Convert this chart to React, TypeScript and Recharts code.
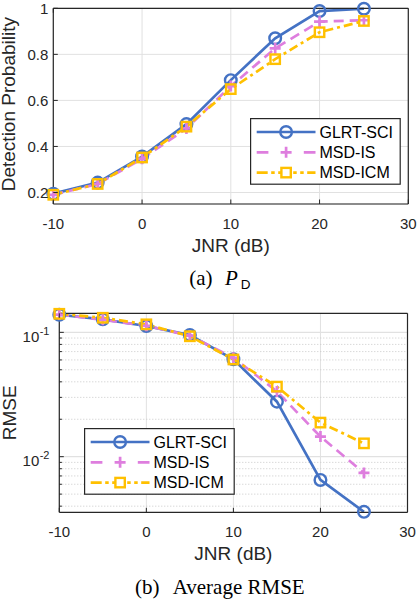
import React from 'react';
import { LineChart, Line, XAxis, YAxis, CartesianGrid, ReferenceLine, Legend, Label } from 'recharts';

const jnrDb = [-10, -5, 0, 5, 10, 15, 20, 25];

const pdGlrtSci = [0.195, 0.243, 0.356, 0.497, 0.688, 0.87, 0.988, 0.998];
const pdMsdIs = [0.19, 0.237, 0.346, 0.478, 0.662, 0.826, 0.942, 0.948];
const pdMsdIcm = [0.19, 0.237, 0.352, 0.486, 0.649, 0.779, 0.896, 0.945];

const rmseGlrtSci = [0.1385, 0.1272, 0.1124, 0.0951, 0.0607, 0.0277, 0.0065, 0.0036];
const rmseMsdIs = [0.139, 0.126, 0.113, 0.094, 0.0625, 0.0335, 0.0145, 0.0074];
const rmseMsdIcm = [0.141, 0.131, 0.116, 0.093, 0.0605, 0.0366, 0.0188, 0.0128];

const seriesNames = ['GLRT-SCI', 'MSD-IS', 'MSD-ICM'];
const xTicks = [-10, 0, 10, 20, 30];
const pdTicks = [0.2, 0.4, 0.6, 0.8, 1];
const pdTickLabels = ['0.2', '0.4', '0.6', '0.8', '1'];
const rmseMajorTicks = [0.01, 0.1];
const rmseTickExponents = ['-2', '-1'];
const rmseMinorTicks = [0.004, 0.005, 0.006, 0.007, 0.008, 0.009, 0.02, 0.03, 0.04, 0.05, 0.06, 0.07, 0.08, 0.09];
const xLabel = 'JNR (dB)';
const pdYLabel = 'Detection Probability';
const rmseYLabel = 'RMSE';

const pdData = jnrDb.map((x, i) => ({ jnr: x, glrt: pdGlrtSci[i], is: pdMsdIs[i], icm: pdMsdIcm[i] }));
const rmseData = jnrDb.map((x, i) => ({ jnr: x, glrt: rmseGlrtSci[i], is: rmseMsdIs[i], icm: rmseMsdIcm[i] }));
const rmseAllTicks = [...rmseMinorTicks, ...rmseMajorTicks].sort((a, b) => a - b);

const FONT = '"Liberation Sans", Arial, Helvetica, sans-serif';
const SERIF = '"Liberation Serif", "Times New Roman", serif';
const AX = '#262626';
const GRID = '#e1e1e1';

const SERIES = [
  { key: 'glrt', color: '#4472C4', dash: undefined, legendDash: undefined, marker: 'circle' },
  { key: 'is', color: '#DE7EDE', dash: '10 6', legendDash: '11.7 35.4 11.7', marker: 'plus' },
  { key: 'icm', color: '#FFC000', dash: '9 4 3 4', legendDash: '11 3.5 3.5 3.5 3 12 3.5 3.5 3.5 3.5 11', marker: 'square' },
];

const Marker = ({ kind, cx, cy, color }: any) => {
  if (cx == null || cy == null) return <g />;
  if (kind === 'circle')
    return <circle cx={cx} cy={cy} r={5.8} fill="none" stroke={color} strokeWidth={2.4} />;
  if (kind === 'plus')
    return (
      <path
        d={`M${cx - 5.5},${cy}H${cx + 5.5}M${cx},${cy - 5.5}V${cy + 5.5}`}
        stroke={color}
        strokeWidth={2.7}
        fill="none"
      />
    );
  return <rect x={cx - 4.7} y={cy - 4.7} width={9.4} height={9.4} fill="none" stroke={color} strokeWidth={2.4} />;
};

const dotFor = (kind: string, color: string) => (p: any) =>
  <Marker key={`d-${p.index}`} kind={kind} cx={p.cx} cy={p.cy} color={color} />;

const BottomTick = (props: any) => {
  const { x, y, payload } = props;
  return (
    <g>
      <line x1={x} x2={x} y1={y} y2={y - 4.5} stroke={AX} strokeWidth={1} />
      <text x={x} y={y + 25} textAnchor="middle" fontSize={15} fontFamily={FONT} fill={AX}>
        {payload.value}
      </text>
    </g>
  );
};

const TopTick = (props: any) => {
  const { x, y } = props;
  return <line x1={x} x2={x} y1={y} y2={y + 4.5} stroke={AX} strokeWidth={1} />;
};

const LeftPdTick = (props: any) => {
  const { x, y, payload } = props;
  const idx = pdTicks.indexOf(payload.value);
  return (
    <g>
      <line x1={x} x2={x + 4.5} y1={y} y2={y} stroke={AX} strokeWidth={1} />
      <text x={x - 5} y={y + 5.3} textAnchor="end" fontSize={15} fontFamily={FONT} fill={AX}>
        {idx >= 0 ? pdTickLabels[idx] : payload.value}
      </text>
    </g>
  );
};

const RightTick = (props: any) => {
  const { x, y, payload } = props;
  const major = rmseMinorTicks.indexOf(payload.value) < 0;
  const len = major ? 4.5 : 2.6;
  return <line x1={x} x2={x - len} y1={y} y2={y} stroke={AX} strokeWidth={1} />;
};

const LeftLogTick = (props: any) => {
  const { x, y, payload } = props;
  const mi = rmseMajorTicks.indexOf(payload.value);
  if (mi < 0) return <line x1={x} x2={x + 2.6} y1={y} y2={y} stroke={AX} strokeWidth={1} />;
  return (
    <g>
      <line x1={x} x2={x + 4.5} y1={y} y2={y} stroke={AX} strokeWidth={1} />
      <text x={x - 20} y={y + 9.7} textAnchor="end" fontSize={15} fontFamily={FONT} fill={AX}>
        10
      </text>
      <text x={x - 19.6} y={y + 2.7} textAnchor="start" fontSize={11} fontFamily={FONT} fill={AX}>
        {rmseTickExponents[mi]}
      </text>
    </g>
  );
};

const xLabelContent = (props: any) => {
  const vb = props.viewBox || {};
  return (
    <text x={vb.x + vb.width / 2} y={vb.y + 48} textAnchor="middle" fontSize={19} fontFamily={FONT} fill={AX}>
      {xLabel}
    </text>
  );
};

const yLabelContent = (text: string, bx: number, dyCenter: number) => (props: any) => {
  const vb = props.viewBox || {};
  const cx = vb.x + bx;
  const cy = vb.y + vb.height / 2 + dyCenter;
  return (
    <text
      x={cx}
      y={cy}
      transform={`rotate(-90 ${cx} ${cy})`}
      textAnchor="middle"
      fontSize={19}
      fontFamily={FONT}
      fill={AX}
    >
      {text}
    </text>
  );
};

const LegendBox = () => (
  <svg width={151} height={67} style={{ display: 'block' }}>
    <rect x={0.6} y={0.6} width={149.6} height={65.6} fill="#fff" stroke={AX} strokeWidth={1.2} />
    {SERIES.map((s, i) => {
      const cy = 14 + i * 20.3;
      return (
        <g key={s.key}>
          <line x1={6.7} x2={65.5} y1={cy} y2={cy} stroke={s.color} strokeWidth={2.7} strokeDasharray={s.legendDash} />
          <Marker kind={s.marker} cx={36.1} cy={cy} color={s.color} />
          <text x={69.5} y={cy + 5.7} fontSize={16} fontFamily={FONT} fill="#000">
            {seriesNames[i]}
          </text>
        </g>
      );
    })}
  </svg>
);

const renderLines = () =>
  SERIES.map((s, i) => (
    <Line
      key={s.key}
      dataKey={s.key}
      name={seriesNames[i]}
      stroke={s.color}
      strokeWidth={2.7}
      strokeDasharray={s.dash}
      dot={dotFor(s.marker, s.color)}
      activeDot={false}
      isAnimationActive={false}
    />
  ));

const axisLine = { stroke: AX, strokeWidth: 1.2 };

const frameAxes = (yDomain: number[], yTicks: number[], logScale: boolean) => [
  <XAxis
    key="xb"
    dataKey="jnr"
    type="number"
    domain={[-10, 30]}
    ticks={xTicks}
    interval={0}
    height={1}
    tickSize={0}
    tickMargin={0}
    tickLine={false}
    axisLine={axisLine}
    tick={<BottomTick />}
  >
    <Label content={xLabelContent} />
  </XAxis>,
  <XAxis
    key="xt"
    xAxisId="top"
    orientation="top"
    type="number"
    domain={[-10, 30]}
    ticks={xTicks}
    interval={0}
    height={1}
    tickSize={0}
    tickMargin={0}
    tickLine={false}
    axisLine={axisLine}
    tick={<TopTick />}
  />,
  <YAxis
    key="yr"
    yAxisId="right"
    orientation="right"
    type="number"
    scale={logScale ? 'log' : 'auto'}
    domain={yDomain}
    ticks={yTicks}
    interval={0}
    width={1}
    tickSize={0}
    tickMargin={0}
    tickLine={false}
    axisLine={axisLine}
    tick={<RightTick />}
  />,
];

export default function App() {
  return (
    <div style={{ position: 'absolute', left: 0, top: 0, width: 418, height: 600, background: '#fff' }}>
      <div style={{ position: 'absolute', left: 0, top: 0 }}>
        <LineChart width={418} height={300} data={pdData} margin={{ top: 7.3, right: 8.7, bottom: 95, left: 0 }}>
          <CartesianGrid stroke={GRID} strokeWidth={1} />
          {frameAxes([0.15, 1], pdTicks, false)}
          <YAxis
            type="number"
            domain={[0.15, 1]}
            ticks={pdTicks}
            interval={0}
            width={53.3}
            tickSize={0}
            tickMargin={0}
            tickLine={false}
            axisLine={axisLine}
            tick={<LeftPdTick />}
          >
            <Label content={yLabelContent(pdYLabel, 15.5, -2)} />
          </YAxis>
          {renderLines()}
          <Legend
            layout="vertical"
            align="center"
            verticalAlign="middle"
            content={() => <LegendBox />}
            wrapperStyle={{ left: 250, top: 118.3, width: 151, height: 67 }}
          />
        </LineChart>
      </div>
      <div style={{ position: 'absolute', left: 0, top: 300 }}>
        <LineChart width={418} height={300} data={rmseData} margin={{ top: 12.3, right: 9.5, bottom: 86.7, left: 0 }}>
          <CartesianGrid stroke={GRID} strokeWidth={1} horizontal={false} />
          {rmseMinorTicks.map((v) => (
            <ReferenceLine key={`mg-${v}`} y={v} stroke="#c8c8c8" strokeWidth={1} strokeDasharray="1 2" />
          ))}
          {rmseMajorTicks.map((v) => (
            <ReferenceLine key={`Mg-${v}`} y={v} stroke={GRID} strokeWidth={1.3} />
          ))}
          {frameAxes([0.00357, 0.1423], rmseAllTicks, true)}
          <YAxis
            type="number"
            scale="log"
            domain={[0.00357, 0.1423]}
            ticks={rmseAllTicks}
            interval={0}
            width={59.3}
            tickSize={0}
            tickMargin={0}
            tickLine={false}
            axisLine={axisLine}
            tick={<LeftLogTick />}
          >
            <Label content={yLabelContent(rmseYLabel, 15.8, 0)} />
          </YAxis>
          {renderLines()}
          <Legend
            layout="vertical"
            align="center"
            verticalAlign="middle"
            content={() => <LegendBox />}
            wrapperStyle={{ left: 84, top: 127.7, width: 151, height: 67 }}
          />
        </LineChart>
      </div>
      <svg width={418} height={600} style={{ position: 'absolute', left: 0, top: 0, pointerEvents: 'none' }}>
        <text x={189.3} y={284.5} fontFamily={SERIF} fontSize={21} fill="#000">
          (a)
        </text>
        <text x={225} y={284.5} fontFamily={SERIF} fontStyle="italic" fontSize={21} fill="#000">
          P
        </text>
        <text x={240.8} y={288.5} fontFamily={FONT} fontSize={13.5} fill="#000">
          D
        </text>
        <text x={135} y={594} fontFamily={SERIF} fontSize={21} fill="#000">
          (b)
        </text>
        <text x={172.7} y={594} fontFamily={SERIF} fontSize={21} fill="#000">
          Average RMSE
        </text>
      </svg>
    </div>
  );
}
